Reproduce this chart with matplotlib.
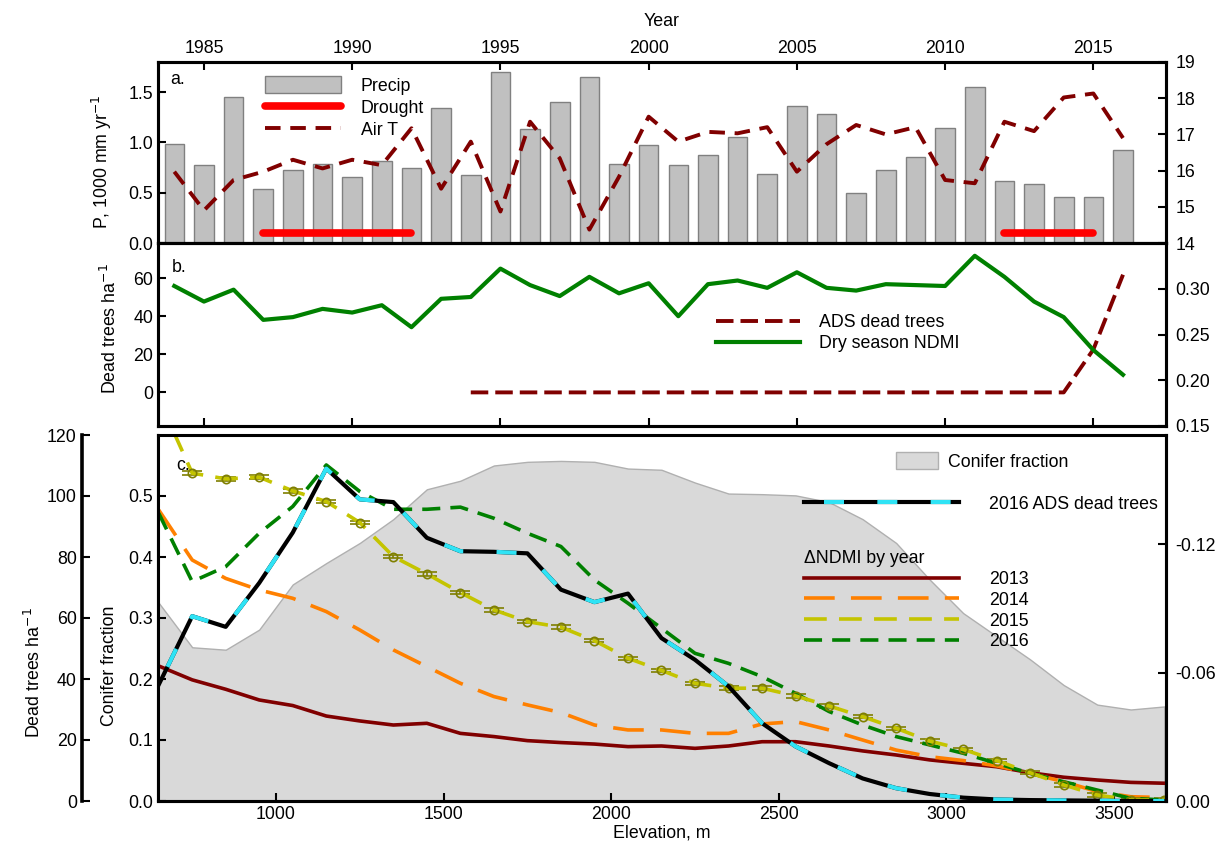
import numpy as np
import matplotlib.pyplot as plt
from matplotlib.patches import Patch
from matplotlib.lines import Line2D

plt.rcParams['font.family'] = ['Liberation Sans', 'DejaVu Sans']
plt.rcParams['font.size'] = 12.8

# ---- panel a / b data (by year)
years = np.arange(1984, 2017)
precip = [0.98, 0.78, 1.45, 0.54, 0.73, 0.79, 0.66, 0.82, 0.75, 1.34, 0.68,
          1.70, 1.13, 1.40, 1.65, 0.79, 0.97, 0.78, 0.88, 1.05, 0.69, 1.36,
          1.28, 0.50, 0.73, 0.86, 1.14, 1.55, 0.62, 0.59, 0.46, 0.46, 0.92]
air_t = [15.97, 14.9, 15.74, 15.97, 16.3, 16.06, 16.3, 16.15, 17.17, 15.5,
         16.8, 14.87, 17.35, 16.34, 14.37, 15.83, 17.49, 16.8, 17.07, 17.03,
         17.2, 15.97, 16.73, 17.26, 17.0, 17.2, 15.74, 15.65, 17.35, 17.09,
         18.02, 18.13, 16.9]
drought_start = [1987, 2012]
drought_end = [1992, 2015]
ndmi_dry = [0.303, 0.286, 0.299, 0.266, 0.269, 0.278, 0.274, 0.282, 0.258,
            0.289, 0.291, 0.322, 0.304, 0.292, 0.313, 0.295, 0.306, 0.270,
            0.305, 0.309, 0.301, 0.318, 0.301, 0.298, 0.305, 0.304, 0.303,
            0.336, 0.313, 0.286, 0.269, 0.233, 0.206]
ads_years = np.arange(1994, 2017)
ads_dead = [0] * 21 + [22.6, 62.0]

# ---- panel c data (by elevation)
elev = np.arange(650, 3651, 100)
conifer = [0.325, 0.252, 0.248, 0.281, 0.355, 0.39, 0.423, 0.462, 0.511, 0.525,
           0.55, 0.556, 0.5575, 0.556, 0.545, 0.543, 0.522, 0.504, 0.503, 0.501,
           0.49, 0.462, 0.423, 0.363, 0.308, 0.27, 0.232, 0.19, 0.158, 0.15, 0.155]
dead_2016 = [38.1, 60.6, 57.1, 71.5, 88, 109, 98.9, 98, 86.3, 81.9, 81.7, 81.2,
             69.3, 65.2, 68, 53.4, 46.3, 37.6, 25.5, 17.9, 12.4, 7.4, 4.2, 2.3,
             1.1, 0.5, 0.3, 0.2, 0.1, 0.0, 0.0]
dndmi_2013 = [-0.0631, -0.0566, -0.0522, -0.0472, -0.0446, -0.0397, -0.0374,
              -0.0355, -0.0363, -0.0316, -0.0301, -0.0282, -0.0273, -0.0266,
              -0.0254, -0.0257, -0.0246, -0.0257, -0.0277, -0.0277, -0.0257,
              -0.0234, -0.0215, -0.0192, -0.0176, -0.0160, -0.0132, -0.0111,
              -0.0098, -0.0087, -0.0083]
dndmi_2014 = [-0.136, -0.1126, -0.104, -0.0986, -0.0947, -0.0885, -0.0799,
              -0.0706, -0.0628, -0.055, -0.0488, -0.0449, -0.0413, -0.0355,
              -0.0332, -0.0332, -0.0316, -0.0316, -0.036, -0.0371, -0.0332,
              -0.0285, -0.0238, -0.0207, -0.0189, -0.0164, -0.0129, -0.009,
              -0.0044, -0.002, -0.0016]
dndmi_2015 = [-0.188, -0.1532, -0.1505, -0.1513, -0.1449, -0.1399, -0.1301,
              -0.1142, -0.1061, -0.0974, -0.0893, -0.0838, -0.0812, -0.0749,
              -0.0667, -0.061, -0.055, -0.0527, -0.0527, -0.0491, -0.0444,
              -0.0394, -0.034, -0.028, -0.0241, -0.0189, -0.0132, -0.0075,
              -0.0028, -0.0005, -0.0005]
dndmi_2016 = [-0.1345, -0.1025, -0.1095, -0.1251, -0.1376, -0.157, -0.1446,
              -0.1363, -0.1363, -0.1373, -0.1321, -0.1251, -0.1189, -0.1033,
              -0.0924, -0.0807, -0.069, -0.0643, -0.0581, -0.0503, -0.0418,
              -0.0355, -0.0301, -0.0262, -0.0223, -0.0176, -0.0129, -0.009,
              -0.0051, -0.0012, -0.0005]

MAROON = '#800000'
GREEN = '#008000'
ORANGE = '#ff8000'
YELLOW = '#c4c400'
OLIVE = '#7f7f00'
CYAN = '#2fe3f5'


def style(ax, lw=2.2, pad=3.5):
    for s in ax.spines.values():
        s.set_linewidth(lw)
    ax.tick_params(direction='in', length=6, width=1.5, labelsize=12.8)
    ax.tick_params(axis='y', pad=pad)


fig = plt.figure(figsize=(12.2, 8.52), dpi=100)
L, W = 158 / 1220, (1166 - 158) / 1220
ax_a = fig.add_axes([L, 1 - 243 / 852, W, (243 - 62) / 852])
ax_b = fig.add_axes([L, 1 - 426 / 852, W, (426 - 243) / 852])
ax_c = fig.add_axes([L, 1 - 801 / 852, W, (801 - 435) / 852])

# ---------------- panel a
ax_a.bar(years, precip, width=0.66, color='#c0c0c0', edgecolor='#808080', lw=1)
for s, e in zip(drought_start, drought_end):
    ax_a.plot([s, e], [0.1, 0.1], color='red', lw=5.5, solid_capstyle='round')
ax_a.set_xlim(1983.45, 2017.45)
ax_a.set_ylim(0, 1.8)
ax_a.set_yticks([0, 0.5, 1.0, 1.5])
ax_a.set_yticklabels(['0.0', '0.5', '1.0', '1.5'])
ax_a.xaxis.tick_top()
ax_a.xaxis.set_label_position('top')
ax_a.set_xticks(range(1985, 2016, 5))
ax_a.set_xlabel('Year', labelpad=10)
ax_a.set_ylabel('P, 1000 mm yr$^{-1}$')
ax_a.yaxis.set_label_coords(-0.044, 0.45)
style(ax_a)

ax_a2 = ax_a.twinx()
ax_a2.plot(years, air_t, color=MAROON, lw=2.8, ls=(0, (4, 2.5)))
ax_a2.set_ylim(14, 19)
ax_a2.set_yticks(range(14, 20))
style(ax_a2, pad=7)
ax_a2.text(0.012, 0.88, 'a.', transform=ax_a2.transAxes)
h_a = [Patch(facecolor='#c0c0c0', edgecolor='#808080'),
       Line2D([], [], color='red', lw=5.5, solid_capstyle='round'),
       Line2D([], [], color=MAROON, lw=2.8, ls=(0, (4, 2.5)))]
ax_a2.legend(h_a, ['Precip', 'Drought', 'Air T'], loc='upper left',
             bbox_to_anchor=(0.09, 1.01), frameon=False, handlelength=4.3,
             handleheight=1.1, handletextpad=1.1, labelspacing=0.2)

# ---------------- panel b
ax_b.plot(ads_years, ads_dead, color=MAROON, lw=2.8, ls=(0, (4.5, 1.8)))
ax_b.set_xlim(1983.45, 2017.45)
ax_b.set_ylim(-17.7, 78.7)
ax_b.set_yticks([0, 20, 40, 60])
ax_b.set_xticks(range(1985, 2016, 5))
ax_b.tick_params(axis='x', labelbottom=False)
ax_b.set_ylabel('Dead trees ha$^{-1}$')
ax_b.yaxis.set_label_coords(-0.038, 0.53)
style(ax_b)

ax_b2 = ax_b.twinx()
ax_b2.plot(years, ndmi_dry, color=GREEN, lw=3)
ax_b2.set_ylim(0.15, 0.35)
ax_b2.set_yticks([0.15, 0.20, 0.25, 0.30])
ax_b2.set_yticklabels(['0.15', '0.20', '0.25', '0.30'])
style(ax_b2, pad=7)
ax_b2.text(0.014, 0.84, 'b.', transform=ax_b2.transAxes)
h_b = [Line2D([], [], color=MAROON, lw=2.8, ls=(0, (4.5, 1.8))),
       Line2D([], [], color=GREEN, lw=3)]
ax_b2.legend(h_b, ['ADS dead trees', 'Dry season NDMI'], loc='upper left',
             bbox_to_anchor=(0.538, 0.7), frameon=False, handlelength=4.7,
             handletextpad=1.1, labelspacing=0.25)

# ---------------- panel c
ax_c.fill_between(elev, 0, conifer, facecolor='#d9d9d9', edgecolor='#b0b0b0', lw=1)
ax_c.set_xlim(648, 3655)
ax_c.set_ylim(0, 0.6)
ax_c.set_yticks([0, 0.1, 0.2, 0.3, 0.4, 0.5])
ax_c.set_yticklabels(['0.0', '0.1', '0.2', '0.3', '0.4', '0.5'])
ax_c.set_xticks(range(1000, 3501, 500))
ax_c.set_xlabel('Elevation, m', labelpad=1)
ax_c.set_ylabel('Conifer fraction')
ax_c.yaxis.set_label_coords(-0.040, 0.37)
style(ax_c)
ax_c.spines['left'].set_linewidth(1.5)
ax_c.spines['top'].set_linewidth(1.2)

ax_r = ax_c.twinx()
ax_r.plot(elev, dndmi_2013, color=MAROON, lw=2.6)
ax_r.plot(elev, dndmi_2014, color=ORANGE, lw=2.6, ls=(0, (8.5, 4.5)))
ax_r.errorbar(elev, dndmi_2015, yerr=0.0008, color=YELLOW, lw=2.6,
              ls=(0, (6.3, 3.4)), marker='o', ms=6, mfc='none', mec=OLIVE,
              mew=1.2, ecolor=OLIVE, elinewidth=1.2, capsize=7, capthick=1.3)
ax_r.plot(elev, dndmi_2016, color=GREEN, lw=2.6, ls=(0, (5, 2.8)))
ax_r.set_ylim(0, -0.171)
ax_r.set_yticks([0, -0.06, -0.12])
ax_r.set_yticklabels(['0.00', '-0.06', '-0.12'])
style(ax_r, pad=7)

ax_d = ax_c.twinx()
ax_d.plot(elev, dead_2016, color='black', lw=3)
ax_d.plot(elev, dead_2016, color=CYAN, lw=3, ls=(8, (4.8, 8)))
ax_d.set_ylim(0, 120)
ax_d.set_yticks(range(0, 121, 20))
ax_d.yaxis.tick_left()
ax_d.yaxis.set_label_position('left')
for side in ['right', 'top', 'bottom']:
    ax_d.spines[side].set_visible(False)
ax_d.spines['left'].set_visible(True)
ax_d.spines['left'].set_position(('outward', 55))
ax_d.spines['left'].set_linewidth(2.6)
ax_d.tick_params(direction='in', length=6, width=1.5, labelsize=12.8)
ax_d.set_ylabel('Dead trees ha$^{-1}$')
ax_d.yaxis.set_label_coords(-0.113, 0.35)
ax_d.text(0.018, 0.905, 'c.', transform=ax_d.transAxes)

leg1 = ax_d.legend([Patch(facecolor='#d9d9d9', edgecolor='#b0b0b0')],
                   ['Conifer fraction'], loc='upper left',
                   bbox_to_anchor=(0.716, 0.997), frameon=False,
                   handlelength=2.4, handleheight=1.1, handletextpad=0.56)
ax_d.add_artist(leg1)
h_ads = (Line2D([], [], color='black', lw=3),
         Line2D([], [], color=CYAN, lw=3, ls=(8, (4.8, 8))))
leg2 = ax_d.legend([h_ads], ['2016 ADS dead trees'], loc='center left',
                   bbox_to_anchor=(0.625, 0.811), frameon=False,
                   handlelength=8.7, handletextpad=1.7)
ax_d.add_artist(leg2)
h_n = [Line2D([], [], color=MAROON, lw=2.6),
       Line2D([], [], color=ORANGE, lw=2.6, ls=(0, (8.5, 4.5))),
       Line2D([], [], color=YELLOW, lw=2.6, ls=(0, (6.3, 3.4))),
       Line2D([], [], color=GREEN, lw=2.6, ls=(0, (5, 2.8)))]
ax_d.legend(h_n, ['2013', '2014', '2015', '2016'], title='\u0394NDMI by year',
            loc='upper left', bbox_to_anchor=(0.625, 0.73), frameon=False,
            handlelength=8.7, handletextpad=1.7, labelspacing=0.22,
            alignment='left', title_fontsize=12.8)

fig.savefig('out.png', dpi=100)
